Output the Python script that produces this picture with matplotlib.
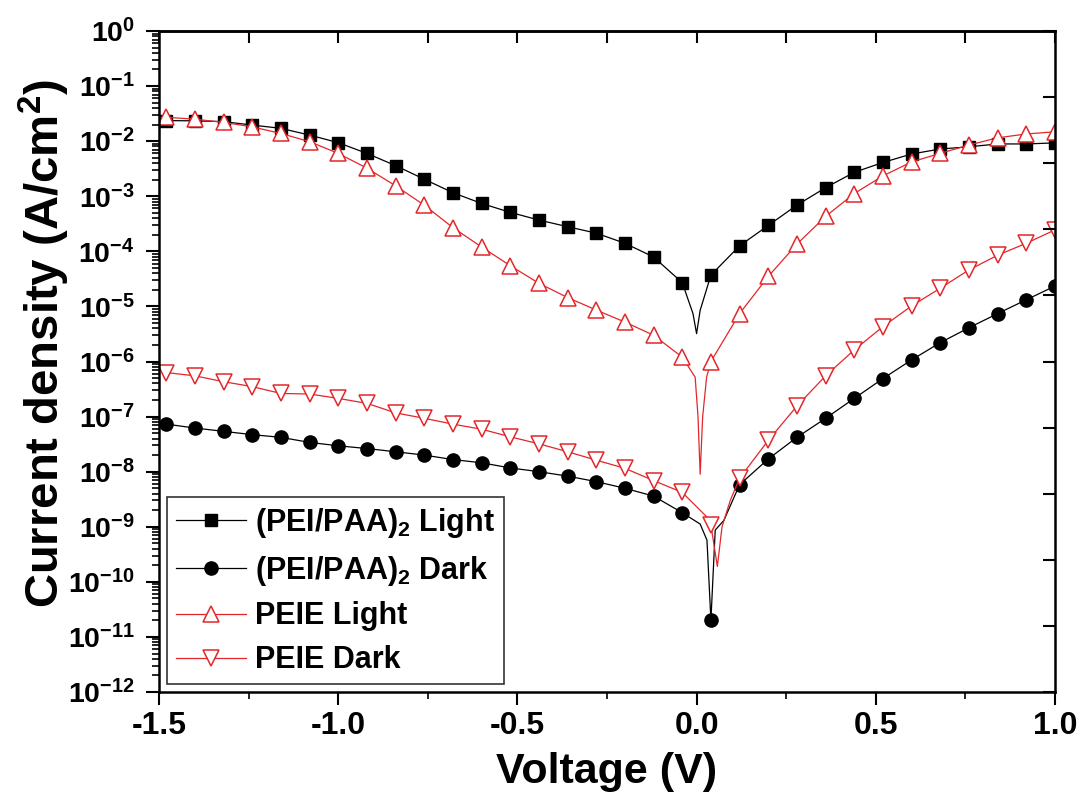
import numpy as np
import matplotlib
matplotlib.use("Agg")
import matplotlib.pyplot as plt
from matplotlib.ticker import MultipleLocator, LogLocator, NullFormatter

plt.rcParams['font.family'] = ['Liberation Sans', 'DejaVu Sans']
plt.rcParams['font.weight'] = 'bold'
plt.rcParams['mathtext.fontset'] = 'custom'
plt.rcParams['mathtext.rm'] = 'Liberation Sans:bold'
plt.rcParams['mathtext.it'] = 'Liberation Sans:bold'
plt.rcParams['mathtext.bf'] = 'Liberation Sans:bold'
plt.rcParams['axes.unicode_minus'] = False

# voltage of the marker points (V)
volt = [-1.48, -1.40, -1.32, -1.24, -1.16, -1.08, -1.00, -0.92, -0.84, -0.76,
        -0.68, -0.60, -0.52, -0.44, -0.36, -0.28, -0.20, -0.12, -0.04, 0.04,
        0.12, 0.20, 0.28, 0.36, 0.44, 0.52, 0.60, 0.68, 0.76, 0.84, 0.92, 1.00]

# current density (A/cm2)
pei_light = [2.36e-2, 2.34e-2, 2.26e-2, 1.96e-2, 1.71e-2, 1.29e-2, 9.4e-3, 6.0e-3,
             3.6e-3, 2.04e-3, 1.16e-3, 7.4e-4, 5.1e-4, 3.7e-4, 2.8e-4, 2.14e-4,
             1.40e-4, 7.9e-5, 2.7e-5, 3.7e-5, 1.26e-4, 2.95e-4, 6.9e-4, 1.43e-3,
             2.72e-3, 4.1e-3, 5.85e-3, 7.2e-3, 7.9e-3, 8.9e-3, 8.9e-3, 9.3e-3]
pei_dark = [7.3e-8, 6.2e-8, 5.4e-8, 4.7e-8, 4.2e-8, 3.4e-8, 2.95e-8, 2.63e-8,
            2.3e-8, 2.0e-8, 1.66e-8, 1.45e-8, 1.17e-8, 1.0e-8, 8.3e-9, 6.6e-9,
            5.0e-9, 3.6e-9, 1.8e-9, 2.0e-11, 5.8e-9, 1.70e-8, 4.2e-8, 9.3e-8,
            2.14e-7, 4.9e-7, 1.07e-6, 2.2e-6, 4.1e-6, 7.4e-6, 1.32e-5, 2.34e-5]
peie_light = [2.71e-2, 2.51e-2, 2.19e-2, 1.82e-2, 1.38e-2, 9.8e-3, 6.0e-3, 3.24e-3,
              1.55e-3, 6.9e-4, 2.7e-4, 1.20e-4, 5.5e-5, 2.63e-5, 1.45e-5, 8.6e-6,
              5.2e-6, 3.0e-6, 1.2e-6, 1.0e-6, 7.4e-6, 3.5e-5, 1.35e-4, 4.3e-4,
              1.12e-3, 2.34e-3, 4.2e-3, 6.0e-3, 8.5e-3, 1.15e-2, 1.35e-2, 1.48e-2]
peie_dark = [6.3e-7, 5.5e-7, 4.3e-7, 3.5e-7, 2.63e-7, 2.57e-7, 2.14e-7, 1.74e-7,
             1.17e-7, 9.3e-8, 7.3e-8, 5.9e-8, 4.3e-8, 3.2e-8, 2.3e-8, 1.62e-8,
             1.15e-8, 6.9e-9, 4.2e-9, 1.07e-9, 7.6e-9, 3.7e-8, 1.55e-7, 5.5e-7,
             1.62e-6, 4.3e-6, 1.02e-5, 2.14e-5, 4.6e-5, 8.5e-5, 1.40e-4, 2.45e-4]

# extra points of the measured curves near zero bias (no markers)
pei_light_v0 = [-0.01, 0.0, 0.01]
pei_light_j0 = [7.4e-6, 3.2e-6, 8.5e-6]
pei_dark_v0 = [0.01, 0.029, 0.052, 0.076]
pei_dark_j0 = [1.12e-9, 5.7e-10, 8.7e-10, 1.3e-9]
peie_light_v0 = [-0.004, 0.004, 0.010, 0.017, 0.028]
peie_light_j0 = [5.2e-7, 1.0e-7, 9.0e-9, 1.0e-7, 5.2e-7]
peie_dark_v0 = [0.029, 0.058, 0.071, 0.094]
peie_dark_j0 = [1.5e-9, 1.9e-10, 1.0e-9, 3.0e-9]

labels = ['(PEI/PAA)$_2$ Light', '(PEI/PAA)$_2$ Dark', 'PEIE Light', 'PEIE Dark']


def merged(v, j, v0, j0):
    x = np.concatenate([v, v0])
    y = np.concatenate([j, j0])
    order = np.argsort(x, kind='stable')
    pos = np.argsort(order)[:len(v)]
    return x[order], y[order], sorted(pos.tolist())


red = '#e3262a'
fig = plt.figure(figsize=(10.84, 8.09), dpi=100)
ax = fig.add_axes([0.1467, 0.1446, 0.8265, 0.8171])

styles = [
    dict(color='black', marker='s', ms=9, mfc='black', mec='black'),
    dict(color='black', marker='o', ms=9.5, mfc='black', mec='black'),
    dict(color=red, marker='^', ms=12, mfc='white', mec=red, mew=1.1),
    dict(color=red, marker='v', ms=12, mfc='white', mec=red, mew=1.1),
]
series = [(pei_light, pei_light_v0, pei_light_j0),
          (pei_dark, pei_dark_v0, pei_dark_j0),
          (peie_light, peie_light_v0, peie_light_j0),
          (peie_dark, peie_dark_v0, peie_dark_j0)]

for (j, v0, j0), st, lab in zip(series, styles, labels):
    x, y, every = merged(volt, j, v0, j0)
    ax.plot(x, y, lw=0.9, markevery=every, label=lab, **st)

ax.set_yscale('log')
ax.set_xlim(-1.5, 1.0)
ax.set_ylim(1e-12, 1e0)
ax.xaxis.set_major_locator(MultipleLocator(0.5))
ax.xaxis.set_minor_locator(MultipleLocator(0.25))
ax.yaxis.set_major_locator(LogLocator(base=10, numticks=20))
ax.yaxis.set_minor_locator(LogLocator(base=10, subs=np.arange(2, 10), numticks=20))
ax.yaxis.set_minor_formatter(NullFormatter())

ax.tick_params(which='major', direction='out', length=9.5, width=1.5)
ax.tick_params(which='minor', direction='out', length=5, width=1.2)
ax.tick_params(axis='x', which='major', labelsize=23, pad=4)
ax.tick_params(axis='y', which='major', labelsize=20.5, pad=8)
for lbl in ax.get_xticklabels() + ax.get_yticklabels():
    lbl.set_fontweight('bold')

for sp in ax.spines.values():
    sp.set_linewidth(1.8)

# inward ticks on the top and right frame
top = ax.secondary_xaxis('top')
top.xaxis.set_major_locator(MultipleLocator(0.25))
top.tick_params(direction='in', length=8.5, width=1.5, labeltop=False)
top.spines['top'].set_linewidth(1.8)

right = ax.twinx()
right.set_ylim(0, 10)
right.set_yticks(range(11))
right.tick_params(direction='in', length=8.5, width=1.5, labelright=False)
for sp in right.spines.values():
    sp.set_visible(False)

ax.set_xlabel('Voltage (V)', fontsize=31, fontweight='bold', labelpad=8)
ax.set_ylabel('Current density (A/cm$^2$)', fontsize=34, fontweight='bold')
ax.yaxis.set_label_coords(-0.097, 0.528)

leg = ax.legend(loc='lower left', frameon=True, fancybox=False,
                edgecolor='black', handlelength=2.3, handletextpad=0.3,
                labelspacing=0.45, borderaxespad=0.25, borderpad=0.3,
                prop={'weight': 'bold', 'size': 22})
leg.get_frame().set_linewidth(1.2)

fig.savefig('out.png', dpi=100)
